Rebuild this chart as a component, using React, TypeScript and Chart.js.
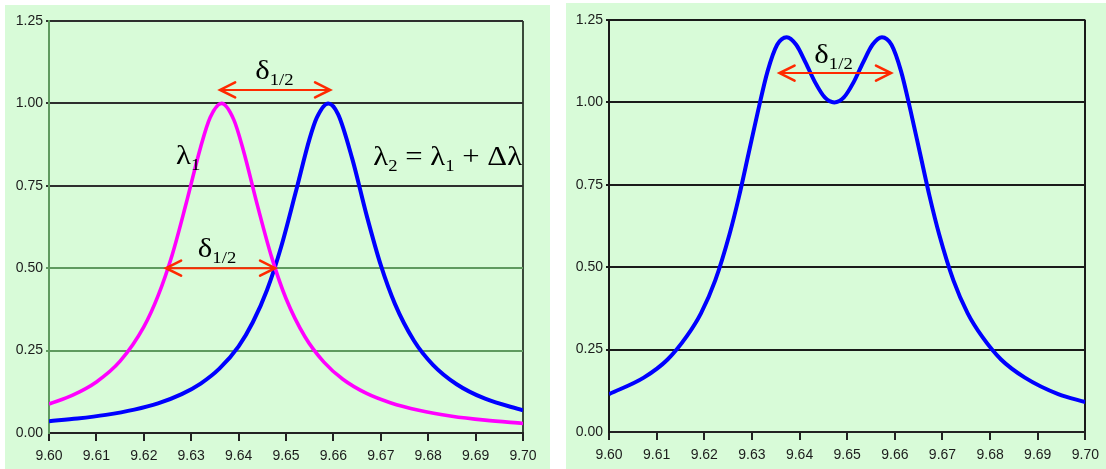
import React, { useEffect, useRef } from "react";
import { Chart, registerables } from "chart.js";

Chart.register(...registerables);

// ---- data ----
const xTicks = [9.6, 9.61, 9.62, 9.63, 9.64, 9.65, 9.66, 9.67, 9.68, 9.69, 9.7];
const xTickLabels = ["9.60", "9.61", "9.62", "9.63", "9.64", "9.65", "9.66", "9.67", "9.68", "9.69", "9.70"];
const yTicks = [0, 0.25, 0.5, 0.75, 1, 1.25];
const yTickLabels = ["0.00", "0.25", "0.50", "0.75", "1.00", "1.25"];

// left panel, line λ1 (magenta)
const lambda1X = [9.6, 9.605, 9.61, 9.615, 9.62, 9.623, 9.626, 9.629, 9.632, 9.634, 9.6364, 9.639, 9.641, 9.644, 9.647, 9.65, 9.654, 9.658, 9.662, 9.667, 9.672, 9.678, 9.685, 9.692, 9.7];
const lambda1Y = [0.088, 0.115, 0.155, 0.218, 0.322, 0.416, 0.541, 0.7, 0.868, 0.957, 1.0, 0.95, 0.858, 0.689, 0.532, 0.408, 0.292, 0.215, 0.163, 0.12, 0.092, 0.069, 0.051, 0.039, 0.029];

// left panel, line λ2 (blue)
const lambda2X = [9.6, 9.606, 9.612, 9.618, 9.623, 9.628, 9.632, 9.636, 9.64, 9.643, 9.646, 9.649, 9.652, 9.655, 9.6565, 9.6589, 9.661, 9.664, 9.667, 9.67, 9.673, 9.677, 9.681, 9.686, 9.692, 9.7];
const lambda2Y = [0.036, 0.044, 0.055, 0.071, 0.09, 0.118, 0.15, 0.196, 0.263, 0.336, 0.434, 0.566, 0.728, 0.894, 0.957, 1.0, 0.967, 0.831, 0.661, 0.509, 0.391, 0.28, 0.207, 0.148, 0.104, 0.069];

// right panel, combined line
const sumX = [9.6, 9.6073, 9.6123, 9.6163, 9.6193, 9.6223, 9.6253, 9.6273, 9.6293, 9.6313, 9.6333, 9.6353, 9.6373, 9.6393, 9.6413, 9.6433, 9.6453, 9.6473, 9.6493, 9.6513, 9.6533, 9.6553, 9.6573, 9.6593, 9.6613, 9.6633, 9.6653, 9.6673, 9.6693, 9.6723, 9.6753, 9.6783, 9.6823, 9.6873, 9.6943, 9.7];
const sumY = [0.115, 0.165, 0.22, 0.29, 0.36, 0.46, 0.6, 0.715, 0.845, 0.975, 1.095, 1.175, 1.198, 1.175, 1.12, 1.06, 1.015, 1.0, 1.015, 1.06, 1.12, 1.175, 1.198, 1.175, 1.095, 0.975, 0.845, 0.715, 0.6, 0.46, 0.36, 0.29, 0.22, 0.165, 0.115, 0.091];

// annotations (data coordinates)
type Part = { t: string; sub?: boolean };
type Label = { x: number; y: number; parts: Part[] };
type Arrow = { x1: number; x2: number; y: number };

const leftArrows: Arrow[] = [
  { x1: 9.6361, x2: 9.6593, y: 1.041 },
  { x1: 9.6247, x2: 9.6477, y: 0.5 },
];
const leftLabels: Label[] = [
  { x: 9.6435, y: 1.074, parts: [{ t: "δ" }, { t: "1/2", sub: true }] },
  { x: 9.6314, y: 0.534, parts: [{ t: "δ" }, { t: "1/2", sub: true }] },
  { x: 9.6268, y: 0.816, parts: [{ t: "λ" }, { t: "1", sub: true }] },
  {
    x: 9.6684,
    y: 0.813,
    parts: [{ t: "λ" }, { t: "2", sub: true }, { t: " = λ" }, { t: "1", sub: true }, { t: " + Δλ" }],
  },
];
const rightArrows: Arrow[] = [{ x1: 9.6358, x2: 9.6592, y: 1.089 }];
const rightLabels: Label[] = [{ x: 9.6431, y: 1.12, parts: [{ t: "δ" }, { t: "1/2", sub: true }] }];

const SERIF = '"Liberation Serif", "Times New Roman", "DejaVu Serif", serif';
const SANS = '"Liberation Sans", Arial, sans-serif';

const annotPlugin = {
  id: "annot",
  afterDatasetsDraw(chart: any, _args: any, opts: any) {
    const { ctx, scales } = chart;
    const xs = scales.x;
    const ys = scales.y;
    ctx.save();
    const arrows: Arrow[] = opts.arrows || [];
    const labels: Label[] = opts.labels || [];
    for (const a of arrows) {
      const p1 = xs.getPixelForValue(a.x1);
      const p2 = xs.getPixelForValue(a.x2);
      const py = ys.getPixelForValue(a.y);
      ctx.strokeStyle = opts.arrowColor;
      ctx.lineWidth = 2;
      ctx.beginPath();
      ctx.moveTo(p1 + 2, py);
      ctx.lineTo(p2 - 2, py);
      ctx.stroke();
      ctx.lineWidth = 2.6;
      ctx.lineCap = "round";
      ctx.lineJoin = "miter";
      const hl = 15;
      const hw = 7.5;
      ctx.beginPath();
      ctx.moveTo(p1 + hl, py - hw);
      ctx.lineTo(p1, py);
      ctx.lineTo(p1 + hl, py + hw);
      ctx.stroke();
      ctx.beginPath();
      ctx.moveTo(p2 - hl, py - hw);
      ctx.lineTo(p2, py);
      ctx.lineTo(p2 - hl, py + hw);
      ctx.stroke();
    }
    ctx.fillStyle = "#000";
    ctx.textAlign = "left";
    ctx.textBaseline = "alphabetic";
    const sx = 1.1;
    for (const l of labels) {
      const x0 = xs.getPixelForValue(l.x);
      const base = ys.getPixelForValue(l.y);
      ctx.save();
      ctx.translate(x0, 0);
      ctx.scale(sx, 1);
      let x = 0;
      for (const p of l.parts) {
        ctx.font = `${p.sub ? 17 : 28}px ${SERIF}`;
        ctx.fillText(p.t, x, p.sub ? base + 6 : base);
        x += ctx.measureText(p.t).width;
      }
      ctx.restore();
    }
    ctx.restore();
  },
};

type PanelProps = {
  left: number;
  top: number;
  width: number;
  height: number;
  padTop: number;
  padRight: number;
  yWidth: number;
  xHeight: number;
  datasets: any[];
  gridColorFor: (v: number) => string;
  yBorderColor: string;
  rightColor: string;
  arrows: Arrow[];
  labels: Label[];
};

function Panel(props: PanelProps) {
  const ref = useRef<HTMLCanvasElement | null>(null);
  useEffect(() => {
    if (!ref.current) return;
    const chart = new Chart(ref.current, {
      type: "line",
      data: { datasets: props.datasets },
      plugins: [annotPlugin as any],
      options: {
        responsive: false,
        animation: false,
        events: [],
        layout: { padding: { top: props.padTop, right: props.padRight, left: 0, bottom: 0 } },
        plugins: {
          legend: { display: false },
          tooltip: { enabled: false },
          annot: { arrows: props.arrows, labels: props.labels, arrowColor: "#ff2a00" },
        } as any,
        elements: { point: { radius: 0 } },
        scales: {
          x: {
            type: "linear",
            min: 9.6,
            max: 9.7,
            afterBuildTicks: (s: any) => {
              s.ticks = xTicks.map((v) => ({ value: v }));
            },
            afterFit: (s: any) => {
              s.height = props.xHeight;
            },
            ticks: {
              autoSkip: false,
              maxRotation: 0,
              padding: 7,
              color: "#1c1c1c",
              font: { family: SANS, size: 14 },
              callback: (_v: any, i: number) => xTickLabels[i],
            },
            grid: {
              drawOnChartArea: true,
              color: (c: any) => (c.index === xTicks.length - 1 ? props.rightColor : "rgba(0,0,0,0)"),
              tickColor: "#222",
              tickLength: 8,
              lineWidth: 2,
            },
            border: { display: true, color: "#222", width: 2 },
          },
          y: {
            type: "linear",
            min: 0,
            max: 1.25,
            afterBuildTicks: (s: any) => {
              s.ticks = yTicks.map((v) => ({ value: v }));
            },
            afterFit: (s: any) => {
              s.width = props.yWidth;
            },
            ticks: {
              autoSkip: false,
              padding: 3,
              color: "#1c1c1c",
              font: { family: SANS, size: 14 },
              callback: (_v: any, i: number) => yTickLabels[i],
            },
            grid: {
              color: (c: any) => (c.tick && c.tick.value === 0 ? "rgba(0,0,0,0)" : props.gridColorFor(c.tick ? c.tick.value : 0)),
              tickLength: 3,
              lineWidth: 2,
            },
            border: { display: true, color: props.yBorderColor, width: 2 },
          },
        },
      },
    });
    return () => chart.destroy();
  }, []);
  return (
    <div
      style={{
        position: "absolute",
        left: props.left,
        top: props.top,
        width: props.width,
        height: props.height,
        background: "#d8fbd8",
      }}
    >
      <canvas ref={ref} width={props.width} height={props.height} style={{ display: "block" }} />
    </div>
  );
}

const toPts = (xs: number[], ys: number[]) => xs.map((x, i) => ({ x, y: ys[i] }));

export default function App() {
  const leftDatasets = [
    {
      data: toPts(lambda1X, lambda1Y),
      borderColor: "#ff00ff",
      borderWidth: 3.6,
      cubicInterpolationMode: "monotone",
      fill: false,
    },
    {
      data: toPts(lambda2X, lambda2Y),
      borderColor: "#0000ff",
      borderWidth: 4,
      cubicInterpolationMode: "monotone",
      fill: false,
    },
  ];
  const rightDatasets = [
    {
      data: toPts(sumX, sumY),
      borderColor: "#0000ff",
      borderWidth: 4,
      cubicInterpolationMode: "monotone",
      fill: false,
    },
  ];
  return (
    <div style={{ position: "absolute", left: 0, top: 0, width: 1106, height: 469, background: "#fff", overflow: "hidden" }}>
      <Panel
        left={5}
        top={5}
        width={545}
        height={464}
        padTop={16}
        padRight={27}
        yWidth={44}
        xHeight={36}
        datasets={leftDatasets}
        gridColorFor={(v) => (v === 0.5 || v === 0.25 ? "#5f9a5f" : "#2e2e2e")}
        yBorderColor="#5f9a5f"
        rightColor="#3a4a3a"
        arrows={leftArrows}
        labels={leftLabels}
      />
      <Panel
        left={566}
        top={3}
        width={540}
        height={466}
        padTop={17}
        padRight={19}
        yWidth={43}
        xHeight={37}
        datasets={rightDatasets}
        gridColorFor={() => "#1a1a1a"}
        yBorderColor="#1a1a1a"
        rightColor="#1a1a1a"
        arrows={rightArrows}
        labels={rightLabels}
      />
    </div>
  );
}
